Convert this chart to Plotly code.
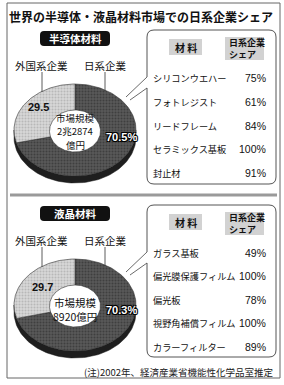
import numpy as np
import plotly.graph_objects as go

W, H = 284, 385

# ---------------- data ----------------
title = "世界の半導体・液晶材料市場での日系企業シェア"
section_names = ["半導体材料", "液晶材料"]
jp_share = [70.5, 70.3]
foreign_share = [29.5, 29.7]
jp_label_text = ["70.5%", "70.3%"]
foreign_label_text = ["29.5", "29.7"]
market_size_lines = [["市場規模", "2兆2874", "億円"], ["市場規模", "8920億円"]]
semi_materials = ["シリコンウエハー", "フォトレジスト", "リードフレーム", "セラミックス基板", "封止材"]
semi_shares = [75, 61, 84, 100, 91]
lcd_materials = ["ガラス基板", "偏光膜保護フィルム", "偏光板", "視野角補償フィルム", "カラーフィルター"]
lcd_shares = [49, 100, 78, 100, 89]
materials = [semi_materials, lcd_materials]
shares = [semi_shares, lcd_shares]
header_material = "材 料"
header_share = ["日系企業", "シェア"]
label_jp = "日系企業"
label_foreign = "外国系企業"
note = "(注)2002年、経済産業省機能性化学品室推定"

FONT = "Noto Sans CJK JP"
fig = go.Figure()
shapes = []
ann = []


def ell(cx, cy, rx, ry, th):
    th = np.radians(th)
    return cx + rx * np.sin(th), cy - ry * np.cos(th)


def rrect(x0, y0, x1, y1, r):
    return (f"M {x0+r},{y0} L {x1-r},{y0} Q {x1},{y0} {x1},{y0+r} "
            f"L {x1},{y1-r} Q {x1},{y1} {x1-r},{y1} L {x0+r},{y1} "
            f"Q {x0},{y1} {x0},{y1-r} L {x0},{y0+r} Q {x0},{y0} {x0+r},{y0} Z")


# outer frame
shapes.append(dict(type="rect", x0=7, y0=3, x1=280, y1=378,
                   line=dict(color="#666", width=1)))
# divider
shapes.append(dict(type="line", x0=10, y0=195, x1=277, y1=195,
                   line=dict(color="#9a9a9a", width=3)))

ann.append(dict(x=141, y=16, text=f"<b>{title}</b>", showarrow=False,
                font=dict(family=FONT, size=12, color="#111")))
ann.append(dict(x=276, y=372, text=note, showarrow=False, xanchor="right",
                font=dict(family=FONT, size=9.5, color="#222")))

foreign_pos = [(38, 107), (42, 287)]
jp_pos = [(121, 137), (121, 310)]
market_y = [[117.5, 131, 144.5], [302, 316]]
market_size_font = [9.5, 10.5]

for s in range(2):
    off = 0 if s == 0 else 175
    # section label
    shapes.append(dict(type="path", path=rrect(40, 31 + off, 110, 46 + off, 4),
                       fillcolor="#111", line=dict(width=0)))
    ann.append(dict(x=75, y=38.5 + off, text=f"<b>{section_names[s]}</b>", showarrow=False,
                    font=dict(family=FONT, size=10.5, color="white")))
    # donut
    cx, cy, rx, ry = 75, 130 + off, 61, 46
    hx, hy, hcy = 25.5, 21, cy + 1
    depth = 7
    t1 = np.linspace(90, 270, 80)
    xs, ys = ell(cx, cy + depth, rx, ry, t1)
    xo, yo = ell(cx, cy, rx, ry, t1[::-1])
    fig.add_trace(go.Scatter(x=np.r_[xs, xo], y=np.r_[ys, yo], fill="toself",
                             fillcolor="#1e1e1e", mode="lines",
                             line=dict(width=0.5, color="#111"), hoverinfo="skip"))
    cum = 0.0
    vals = [jp_share[s], foreign_share[s]]
    styles = [("#585858", "#262626"), ("#d6d6d6", "#9a9a9a")]
    for v, (bg, fg) in zip(vals, styles):
        a0 = cum / 100 * 360
        a1 = (cum + v) / 100 * 360
        th = np.linspace(a0, a1, 120)
        ox, oy = ell(cx, cy, rx, ry, th)
        ix, iy = ell(cx, hcy, hx, hy, th[::-1])
        fig.add_trace(go.Scatter(x=np.r_[ox, ix, ox[:1]], y=np.r_[oy, iy, oy[:1]],
                                 fill="toself", fillcolor=bg, mode="lines",
                                 fillpattern=dict(shape=".", fgcolor=fg, bgcolor=bg,
                                                  size=3, solidity=0.35),
                                 line=dict(width=0.6, color="#333"), hoverinfo="skip"))
        cum += v
    # labels around donut
    ann.append(dict(x=41, y=65 + off, text=label_foreign, showarrow=False,
                    font=dict(family=FONT, size=10.5, color="#111")))
    ann.append(dict(x=105, y=65 + off, text=label_jp, showarrow=False,
                    font=dict(family=FONT, size=10.5, color="#111")))
    shapes.append(dict(type="line", x0=42, y0=72 + off, x1=42, y1=92 + off,
                       line=dict(color="#333", width=0.8)))
    shapes.append(dict(type="line", x0=105, y0=72 + off, x1=105, y1=91 + off,
                       line=dict(color="#333", width=0.8)))
    fx, fy = foreign_pos[s]
    ann.append(dict(x=fx, y=fy, text=f"<b>{foreign_label_text[s]}</b>", showarrow=False,
                    font=dict(family="Liberation Sans", size=11, color="#111")))
    jx, jy = jp_pos[s]
    ann.append(dict(x=jx, y=jy, text=f"<b>{jp_label_text[s]}</b>", showarrow=False,
                    font=dict(family="Liberation Sans", size=11, color="white",
                              shadow="-1px -1px 0 #000, 1px -1px 0 #000, -1px 1px 0 #000, 1px 1px 0 #000")))
    for line, yy in zip(market_size_lines[s], market_y[s]):
        ann.append(dict(x=75, y=yy, text=line, showarrow=False,
                        font=dict(family=FONT, size=market_size_font[s], color="#111")))
    # table box (open at the callout)
    bx0, by0, bx1, by1, r = 147, 30 + off, 276, 184 + off - (2 if s else 0), 7
    g0, g1 = 77 + off, 88 + off
    p = (f"M {bx0},{g1} L {bx0},{by1-r} Q {bx0},{by1} {bx0+r},{by1} L {bx1-r},{by1} "
         f"Q {bx1},{by1} {bx1},{by1-r} L {bx1},{by0+r} Q {bx1},{by0} {bx1-r},{by0} "
         f"L {bx0+r},{by0} Q {bx0},{by0} {bx0},{by0+r} L {bx0},{g0}")
    shapes.append(dict(type="path", path=p, line=dict(color="#555", width=1)))
    shapes.append(dict(type="line", x0=126, y0=97 + off, x1=bx0, y1=g0,
                       line=dict(color="#444", width=0.8)))
    shapes.append(dict(type="line", x0=130, y0=100 + off, x1=bx0, y1=g1,
                       line=dict(color="#444", width=0.8)))
    # header
    shapes.append(dict(type="rect", x0=169, y0=39 + off, x1=202, y1=55 + off,
                       fillcolor="#d2d2d2", line=dict(width=0)))
    shapes.append(dict(type="rect", x0=225, y0=37 + off, x1=264, y1=60 + off,
                       fillcolor="#d2d2d2", line=dict(width=0)))
    ann.append(dict(x=185.5, y=47 + off, text=f"<b>{header_material}</b>", showarrow=False,
                    font=dict(family=FONT, size=10, color="#111")))
    ann.append(dict(x=227, y=48.5 + off, text=f"<b>{'<br>'.join(header_share)}</b>",
                    showarrow=False, xanchor="left", align="left",
                    font=dict(family=FONT, size=9, color="#111")))
    for i, (m, v) in enumerate(zip(materials[s], shares[s])):
        y = 78 + off + 23.8 * i - (1.5 * i / 4 if s else 0)
        ann.append(dict(x=151, y=y, text=m, showarrow=False, xanchor="left",
                        font=dict(family=FONT, size=9.2, color="#111")))
        ann.append(dict(x=268, y=y, text=f"{v}%", showarrow=False, xanchor="right",
                        font=dict(family="Liberation Sans", size=10.5, color="#111")))

fig.update_layout(
    width=W, height=H, margin=dict(l=0, r=0, t=0, b=0),
    paper_bgcolor="white", plot_bgcolor="white", showlegend=False,
    xaxis=dict(range=[0, W], visible=False, fixedrange=True),
    yaxis=dict(range=[H, 0], visible=False, fixedrange=True),
    shapes=shapes, annotations=ann,
)
fig.write_html("out.html")
